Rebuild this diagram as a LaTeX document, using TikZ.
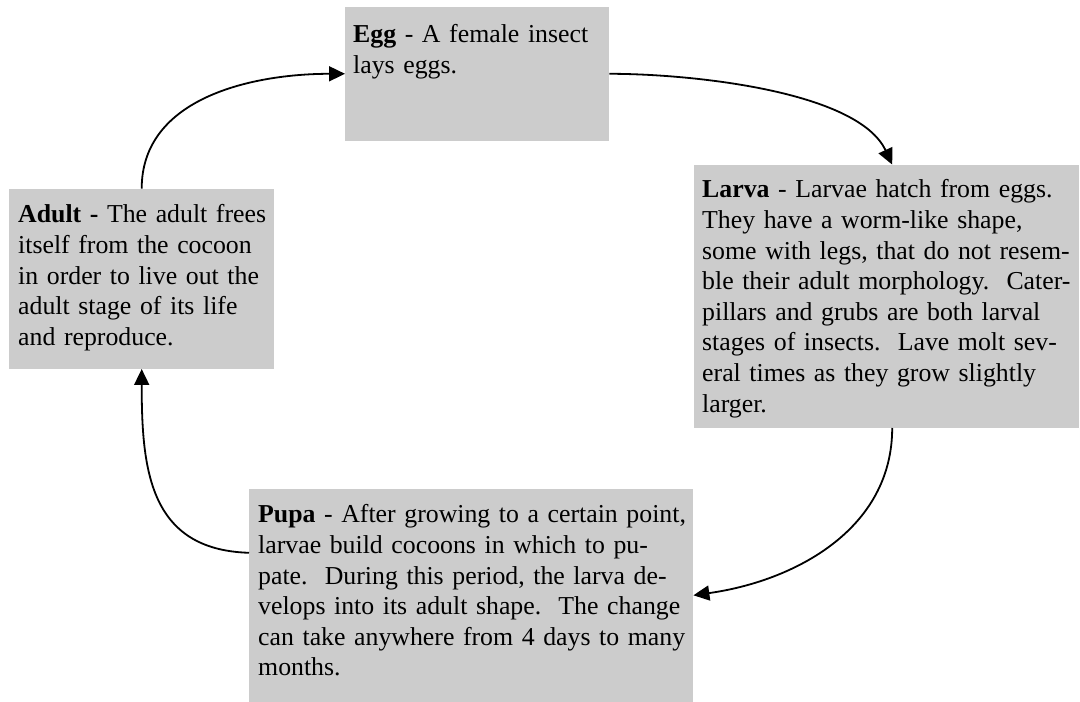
\documentclass[tikz,border=0pt]{standalone}
\usepackage{fontspec}
\setmainfont{Liberation Serif}
\usetikzlibrary{arrows.meta,calc}
\definecolor{boxgray}{HTML}{CCCCCC}
\begin{document}
\begin{tikzpicture}[x=1pt,y=1pt,
  stagebox/.style={fill=boxgray, draw=none, inner sep=0pt, anchor=south west},
  stagetext/.style={inner sep=0pt, anchor=base west, align=left, text width=#1,
    font=\fontsize{25.8}{30.6}\selectfont},
  link/.style={line width=1.8pt, -{Triangle[length=16pt,width=15pt]}}]
\useasboundingbox (0,0) rectangle (1080,702);
% boxes
\node[stagebox, minimum width=264pt, minimum height=134pt] (egg) at (345,561) {};
\node[stagebox, minimum width=385pt, minimum height=263pt] (larva) at (694,274) {};
\node[stagebox, minimum width=265pt, minimum height=180pt] (adult) at (9,333) {};
\node[stagebox, minimum width=444pt, minimum height=213pt] (pupa) at (249,0) {};
% texts
\node[stagetext=280pt] (eggT) at (353,659) {\textbf{Egg} - A female insect\\lays eggs.};
\node[stagetext=400pt] (larvaT) at (702,504) {\textbf{Larva} - Larvae hatch from eggs.\\
They have a worm-like shape,\\
some with legs, that do not resem-\\
ble their adult morphology.\ \ Cater-\\
pillars and grubs are both larval\\
stages of insects.\ \ Lave molt sev-\\
eral times as they grow slightly\\
larger.};
\node[stagetext=280pt] (adultT) at (18,479) {\textbf{Adult -} The adult frees\\
itself from the cocoon\\
in order to live out the\\
adult stage of its life\\
and reproduce.};
\node[stagetext=460pt] (pupaT) at (258,179) {\textbf{Pupa} - After growing to a certain point,\\
larvae build cocoons in which to pu-\\
pate.\ \ During this period, the larva de-\\
velops into its adult shape.\ \ The change\\
can take anywhere from 4 days to many\\
months.};
% connectors
\draw[link] (adult.north) to[out=90,in=180] (egg.west);
\draw[link] (egg.east) to[out=0,in=115,looseness=0.7] ([xshift=5.5pt]larva.north);
\draw[link] ([xshift=5.5pt]larva.south) to[out=-90,in=8] (pupa.east);
\draw[link] ([yshift=42.5pt]pupa.west) .. controls +(-100,3) and +(0,-100) .. (adult.south);
\end{tikzpicture}
\end{document}
